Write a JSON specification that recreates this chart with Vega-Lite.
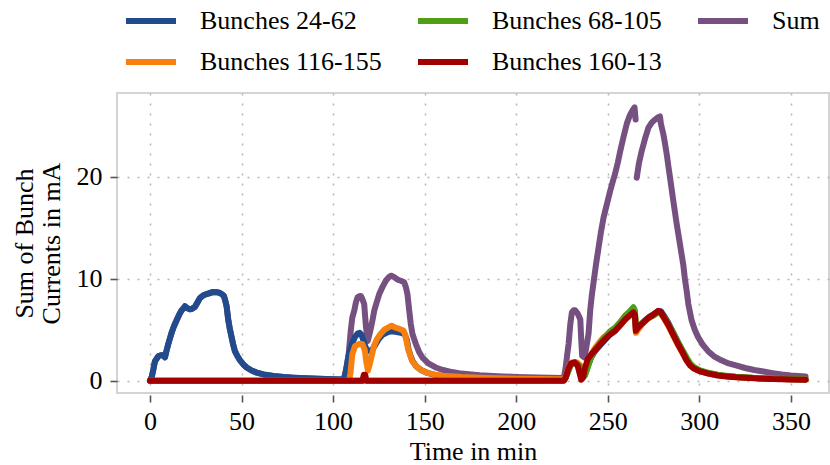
{
  "$schema": "https://vega.github.io/schema/vega-lite/v6.json",
  "width": 712,
  "height": 300,
  "autosize": {"type": "none"},
  "padding": {"left": 117, "top": 93, "right": 1, "bottom": 72},
  "background": "white",
  "config": {
    "view": {"stroke": "#d4d4d4", "strokeWidth": 2},
    "font": "Liberation Serif",
    "axis": {
      "grid": true,
      "gridColor": "#b5b5b5",
      "gridDash": [2, 8],
      "gridWidth": 1.5,
      "domain": false,
      "tickColor": "#555555",
      "tickSize": 7,
      "tickWidth": 1.6,
      "labelFont": "Liberation Serif",
      "labelFontSize": 26,
      "labelColor": "#000000",
      "titleFont": "Liberation Serif",
      "titleFontSize": 26,
      "titleFontWeight": "normal",
      "titleColor": "#000000"
    },
    "legend": {
      "labelFont": "Liberation Serif",
      "labelFontSize": 26,
      "labelColor": "#000000",
      "labelLimit": 400
    },
    "line": {"strokeWidth": 6, "strokeCap": "round", "strokeJoin": "round"}
  },
  "datasets": {
    "blue": [
      {"t":0,"v":0},{"t":1,"v":0.4},{"t":1.8,"v":1.05},{"t":2.7,"v":1.9},{"t":4.5,"v":2.4},{"t":6,"v":2.5},{"t":7.3,"v":2.5},{"t":8.2,"v":2.3},{"t":9,"v":2.9},{"t":10,"v":3.6},{"t":11.8,"v":4.7},{"t":13,"v":5.3},{"t":14.5,"v":5.9},{"t":16,"v":6.5},{"t":17.3,"v":6.9},{"t":19.1,"v":7.3},{"t":20.5,"v":7.1},{"t":21.8,"v":7.0},{"t":23,"v":7.05},{"t":24.6,"v":7.25},{"t":26,"v":7.7},{"t":27.3,"v":8.1},{"t":29,"v":8.35},{"t":30.9,"v":8.5},{"t":32.8,"v":8.6},{"t":34.6,"v":8.7},{"t":36.5,"v":8.68},{"t":38.2,"v":8.6},{"t":39.5,"v":8.45},{"t":40.4,"v":8.3},{"t":41.2,"v":7.8},{"t":41.9,"v":7.25},{"t":42.8,"v":5.9},{"t":43.7,"v":5.0},{"t":44.6,"v":4.25},{"t":45.5,"v":3.5},{"t":46.4,"v":2.9},{"t":47.8,"v":2.4},{"t":49.2,"v":2.0},{"t":51,"v":1.6},{"t":52.8,"v":1.3},{"t":55.5,"v":1.0},{"t":58.3,"v":0.8},{"t":62,"v":0.62},{"t":67.4,"v":0.46},{"t":73,"v":0.36},{"t":78.4,"v":0.3},{"t":85,"v":0.24},{"t":92,"v":0.19},{"t":100,"v":0.15},{"t":105.5,"v":0.12},
      {"t":106.5,"v":0.5},{"t":107.5,"v":1.5},{"t":108.5,"v":2.5},{"t":109.5,"v":3.2},{"t":110.5,"v":3.7},{"t":112,"v":4.3},{"t":113.5,"v":4.65},{"t":114.5,"v":4.7},{"t":115.5,"v":4.5},{"t":116.5,"v":4.0},{"t":117.5,"v":3.4},{"t":118.5,"v":3.0},{"t":120,"v":2.9},{"t":121.5,"v":3.1},{"t":123,"v":3.5},{"t":125,"v":4.1},{"t":127,"v":4.5},{"t":129,"v":4.7},{"t":131.5,"v":4.85},{"t":134,"v":4.8},{"t":137,"v":4.7},{"t":139,"v":4.6},{"t":140.3,"v":4.0},{"t":141.2,"v":3.1},{"t":142.2,"v":2.5},{"t":143.5,"v":1.9},{"t":145.5,"v":1.4},{"t":148,"v":1.05},{"t":151,"v":0.8},{"t":155,"v":0.6},{"t":160,"v":0.45},{"t":165,"v":0.36},{"t":170,"v":0.3},{"t":180,"v":0.23},{"t":190,"v":0.18},{"t":200,"v":0.15},{"t":212,"v":0.12},{"t":226,"v":0.1},
      {"t":227,"v":0.3},{"t":228.5,"v":1.0},{"t":229.5,"v":1.45},{"t":230.5,"v":1.7},{"t":232,"v":1.75},{"t":233.5,"v":1.65},{"t":235,"v":1.4},{"t":235.7,"v":0.8},{"t":236.5,"v":0.5},{"t":237.5,"v":0.6},{"t":238.5,"v":1.1},{"t":239.5,"v":1.6},{"t":241,"v":2.3},{"t":243,"v":2.9},{"t":245.5,"v":3.4},{"t":248,"v":3.9},{"t":251,"v":4.5},{"t":254,"v":4.9},{"t":257,"v":5.5},{"t":259.5,"v":6.1},{"t":262,"v":6.5},{"t":264,"v":6.8},{"t":264.8,"v":6.6},{"t":265.4,"v":5.0},{"t":266.5,"v":5.2},{"t":268.5,"v":5.6},{"t":270.5,"v":5.95},{"t":272.5,"v":6.25},{"t":275,"v":6.5},{"t":277.5,"v":6.8},{"t":279,"v":6.8},{"t":281,"v":6.3},{"t":283,"v":5.7},{"t":285.5,"v":4.8},{"t":288,"v":3.9},{"t":290.5,"v":3.0},{"t":293,"v":2.15},{"t":295,"v":1.6},{"t":297,"v":1.25},{"t":300,"v":0.98},{"t":305,"v":0.72},{"t":310,"v":0.56},{"t":315,"v":0.45},{"t":320,"v":0.37},{"t":330,"v":0.27},{"t":340,"v":0.2},{"t":350,"v":0.15},{"t":358,"v":0.12}
    ],
    "orange": [
      {"t":0,"v":0},{"t":108.8,"v":0},{"t":109.5,"v":0.8},{"t":110.5,"v":2.6},{"t":112,"v":3.4},{"t":114,"v":3.6},{"t":116,"v":3.6},{"t":117.3,"v":3.0},{"t":118.2,"v":1.8},{"t":119,"v":1.0},{"t":120,"v":1.6},{"t":121,"v":2.4},{"t":122.5,"v":3.5},{"t":124,"v":4.1},{"t":126,"v":4.6},{"t":128,"v":5.0},{"t":130,"v":5.2},{"t":132,"v":5.4},{"t":134,"v":5.2},{"t":136,"v":5.1},{"t":138.5,"v":4.9},{"t":139.5,"v":4.4},{"t":141,"v":3.1},{"t":143,"v":2.0},{"t":145.5,"v":1.4},{"t":148.5,"v":1.0},{"t":152,"v":0.75},{"t":156,"v":0.6},{"t":160,"v":0.5},{"t":170,"v":0.38},{"t":180,"v":0.3},{"t":190,"v":0.25},{"t":200,"v":0.2},{"t":212,"v":0.17},{"t":226,"v":0.14},
      {"t":227,"v":0.4},{"t":228.5,"v":1.3},{"t":229.5,"v":1.6},{"t":230.5,"v":1.8},{"t":232,"v":1.85},{"t":233.5,"v":1.75},{"t":235,"v":1.5},{"t":235.7,"v":0.9},{"t":236.5,"v":0.5},{"t":237.5,"v":0.8},{"t":238.5,"v":1.4},{"t":239.5,"v":1.9},{"t":241,"v":2.6},{"t":243,"v":3.2},{"t":245.5,"v":3.8},{"t":248,"v":4.3},{"t":251,"v":4.7},{"t":254,"v":5.0},{"t":257,"v":5.5},{"t":259.5,"v":6.0},{"t":262,"v":6.6},{"t":264,"v":7.0},{"t":264.8,"v":6.7},{"t":265.4,"v":4.7},{"t":266.5,"v":5.0},{"t":268.5,"v":5.5},{"t":270.5,"v":5.85},{"t":272.5,"v":6.15},{"t":275,"v":6.45},{"t":277.5,"v":6.8},{"t":279,"v":6.6},{"t":281,"v":6.0},{"t":283,"v":5.4},{"t":285.5,"v":4.5},{"t":288,"v":3.6},{"t":290.5,"v":2.8},{"t":293,"v":2.0},{"t":295,"v":1.5},{"t":297,"v":1.2},{"t":300,"v":0.95},{"t":305,"v":0.7},{"t":310,"v":0.55},{"t":315,"v":0.44},{"t":320,"v":0.36},{"t":330,"v":0.26},{"t":340,"v":0.2},{"t":350,"v":0.15},{"t":358,"v":0.12}
    ],
    "green": [
      {"t":0,"v":0},{"t":226,"v":0},{"t":227,"v":0.3},{"t":228.5,"v":1.0},{"t":229.5,"v":1.4},{"t":230.5,"v":1.65},{"t":232,"v":1.7},{"t":233.5,"v":1.6},{"t":235,"v":1.35},{"t":235.7,"v":0.8},{"t":236.5,"v":0.4},{"t":237.5,"v":0.5},{"t":238.5,"v":1.0},{"t":239.5,"v":1.6},{"t":241,"v":2.4},{"t":243,"v":3.0},{"t":245.5,"v":3.6},{"t":248,"v":4.2},{"t":251,"v":4.8},{"t":254,"v":5.2},{"t":257,"v":5.8},{"t":259.5,"v":6.4},{"t":262,"v":6.8},{"t":264,"v":7.2},{"t":264.8,"v":6.9},{"t":265.4,"v":5.1},{"t":266.5,"v":5.3},{"t":268.5,"v":5.6},{"t":270.5,"v":5.9},{"t":272.5,"v":6.2},{"t":275,"v":6.4},{"t":277.5,"v":6.7},{"t":279,"v":6.6},{"t":281,"v":6.2},{"t":283,"v":5.6},{"t":285.5,"v":4.8},{"t":288,"v":3.9},{"t":290.5,"v":3.1},{"t":293,"v":2.3},{"t":295,"v":1.7},{"t":297,"v":1.35},{"t":300,"v":1.05},{"t":305,"v":0.78},{"t":310,"v":0.6},{"t":315,"v":0.48},{"t":320,"v":0.39},{"t":330,"v":0.28},{"t":340,"v":0.21},{"t":350,"v":0.16},{"t":358,"v":0.13}
    ],
    "red": [
      {"t":0,"v":0},{"t":116,"v":0},{"t":116.8,"v":0.6},{"t":117.5,"v":0.6},{"t":118.2,"v":0},{"t":226,"v":0},{"t":227,"v":0.3},{"t":228.5,"v":1.2},{"t":230,"v":1.7},{"t":232,"v":1.8},{"t":233.5,"v":1.5},{"t":234.5,"v":0.8},{"t":235.5,"v":0.1},{"t":236.5,"v":0.3},{"t":237.5,"v":1.2},{"t":239,"v":2.1},{"t":241,"v":2.6},{"t":243,"v":3.0},{"t":245.5,"v":3.5},{"t":248,"v":4.0},{"t":251,"v":4.5},{"t":254,"v":4.9},{"t":257,"v":5.5},{"t":259.5,"v":6.0},{"t":262,"v":6.4},{"t":264,"v":6.7},{"t":264.8,"v":6.5},{"t":265.3,"v":4.9},{"t":266.5,"v":5.2},{"t":268.5,"v":5.55},{"t":270.5,"v":5.9},{"t":272.5,"v":6.2},{"t":275,"v":6.5},{"t":277.5,"v":6.85},{"t":279,"v":6.7},{"t":281,"v":6.1},{"t":283,"v":5.5},{"t":285.5,"v":4.6},{"t":288,"v":3.7},{"t":290.5,"v":2.9},{"t":293,"v":2.0},{"t":295,"v":1.5},{"t":297,"v":1.2},{"t":300,"v":0.95},{"t":305,"v":0.7},{"t":310,"v":0.52},{"t":315,"v":0.42},{"t":320,"v":0.34},{"t":330,"v":0.24},{"t":340,"v":0.16},{"t":350,"v":0.12},{"t":358,"v":0.1}
    ],
    "sum": [
      {"t":0,"v":0},{"t":1,"v":0.4},{"t":1.8,"v":1.05},{"t":2.7,"v":1.9},{"t":4.5,"v":2.4},{"t":6,"v":2.5},{"t":7.3,"v":2.5},{"t":8.2,"v":2.3},{"t":9,"v":2.9},{"t":10,"v":3.6},{"t":11.8,"v":4.7},{"t":13,"v":5.3},{"t":14.5,"v":5.9},{"t":16,"v":6.5},{"t":17.3,"v":6.9},{"t":19.1,"v":7.3},{"t":20.5,"v":7.1},{"t":21.8,"v":7.0},{"t":23,"v":7.05},{"t":24.6,"v":7.25},{"t":26,"v":7.7},{"t":27.3,"v":8.1},{"t":29,"v":8.35},{"t":30.9,"v":8.5},{"t":32.8,"v":8.6},{"t":34.6,"v":8.7},{"t":36.5,"v":8.68},{"t":38.2,"v":8.6},{"t":39.5,"v":8.45},{"t":40.4,"v":8.3},{"t":41.2,"v":7.8},{"t":41.9,"v":7.25},{"t":42.8,"v":5.9},{"t":43.7,"v":5.0},{"t":44.6,"v":4.25},{"t":45.5,"v":3.5},{"t":46.4,"v":2.9},{"t":47.8,"v":2.4},{"t":49.2,"v":2.0},{"t":51,"v":1.6},{"t":52.8,"v":1.3},{"t":55.5,"v":1.0},{"t":58.3,"v":0.8},{"t":62,"v":0.62},{"t":67.4,"v":0.46},{"t":73,"v":0.36},{"t":78.4,"v":0.3},{"t":85,"v":0.24},{"t":92,"v":0.19},{"t":100,"v":0.15},{"t":105.5,"v":0.12},
      {"t":106.5,"v":0.55},{"t":107.5,"v":1.5},{"t":108.5,"v":2.6},{"t":109.7,"v":5.0},{"t":110.5,"v":6.2},{"t":111.6,"v":6.9},{"t":112.5,"v":7.7},{"t":113.4,"v":8.2},{"t":114.5,"v":8.3},{"t":115.2,"v":8.3},{"t":116,"v":8.0},{"t":117,"v":7.5},{"t":117.5,"v":6.3},{"t":118,"v":5.2},{"t":118.9,"v":3.9},{"t":119.8,"v":4.5},{"t":120.7,"v":5.2},{"t":121.6,"v":6.0},{"t":122.5,"v":6.9},{"t":124,"v":7.8},{"t":125.2,"v":8.5},{"t":127,"v":9.2},{"t":128.8,"v":9.8},{"t":130.2,"v":10.1},{"t":131.6,"v":10.3},{"t":133,"v":10.2},{"t":135.2,"v":9.9},{"t":137,"v":9.8},{"t":138.8,"v":9.65},{"t":139.7,"v":9.2},{"t":140.6,"v":8.5},{"t":141.5,"v":7.0},{"t":142.4,"v":5.6},{"t":143.3,"v":4.6},{"t":145.2,"v":3.6},{"t":147,"v":2.8},{"t":148.7,"v":2.3},{"t":152,"v":1.7},{"t":156,"v":1.3},{"t":160,"v":1.05},{"t":165,"v":0.85},{"t":170,"v":0.7},{"t":180,"v":0.55},{"t":190,"v":0.45},{"t":200,"v":0.38},{"t":212,"v":0.32},{"t":226,"v":0.27},
      {"t":227,"v":1.3},{"t":227.8,"v":2.5},{"t":228.6,"v":3.6},{"t":229.5,"v":5.5},{"t":230.4,"v":6.7},{"t":231.3,"v":6.9},{"t":232.2,"v":6.9},{"t":233.5,"v":6.6},{"t":234.3,"v":6.3},{"t":235,"v":6.0},{"t":235.5,"v":4.0},{"t":236,"v":2.45},{"t":237,"v":2.3},{"t":238,"v":3.0},{"t":239.5,"v":4.6},{"t":240.4,"v":6.9},{"t":241.3,"v":8.4},{"t":242.2,"v":9.6},{"t":243.5,"v":11.3},{"t":245,"v":13.1},{"t":246.3,"v":14.6},{"t":247.7,"v":16.0},{"t":249.5,"v":17.3},{"t":251.3,"v":18.6},{"t":252.7,"v":19.5},{"t":254,"v":20.3},{"t":255.5,"v":21.4},{"t":256.8,"v":22.5},{"t":258.6,"v":23.9},{"t":260.4,"v":25.2},{"t":262,"v":26.0},{"t":263.5,"v":26.5},{"t":264.6,"v":26.8},{"t":265.2,"v":25.6},{"t":265.5,"v":null},{"t":265.8,"v":19.9},{"t":267,"v":21.3},{"t":268.5,"v":22.5},{"t":270.3,"v":23.7},{"t":272.2,"v":24.8},{"t":274,"v":25.3},{"t":275.8,"v":25.6},{"t":277.2,"v":25.8},{"t":278.5,"v":25.9},{"t":279,"v":25.2},{"t":280.3,"v":24.2},{"t":281.2,"v":23.3},{"t":282.2,"v":22.2},{"t":283.1,"v":21.0},{"t":284,"v":19.9},{"t":285.8,"v":17.6},{"t":287.6,"v":15.4},{"t":289.4,"v":13.4},{"t":291.2,"v":11.4},{"t":292.1,"v":10.0},{"t":293,"v":8.9},{"t":294,"v":7.5},{"t":295.8,"v":5.9},{"t":297.5,"v":5.0},{"t":299.4,"v":4.25},{"t":302,"v":3.5},{"t":304.8,"v":2.9},{"t":308,"v":2.4},{"t":312,"v":2.0},{"t":316,"v":1.7},{"t":320,"v":1.5},{"t":325,"v":1.25},{"t":330,"v":1.05},{"t":335,"v":0.9},{"t":340,"v":0.75},{"t":345,"v":0.62},{"t":350,"v":0.52},{"t":358,"v":0.42}
    ]
  },
  "encoding": {
    "x": {
      "field": "t", "type": "quantitative",
      "scale": {"domain": [-18, 370.8], "nice": false, "zero": false},
      "axis": {"values": [0, 50, 100, 150, 200, 250, 300, 350], "title": "Time in min", "offset": 2, "labelPadding": 6, "titlePadding": 4}
    },
    "y": {
      "field": "v", "type": "quantitative",
      "scale": {"domain": [-1.2, 28.2], "nice": false, "zero": false},
      "axis": {"values": [0, 10, 20], "title": ["Sum of Bunch", "Currents in mA"], "labelPadding": 8, "titlePadding": 12, "titleLineHeight": 27}
    }
  },
  "layer": [
    {"data": {"name": "sum"}, "mark": {"type": "line"}, "encoding": {"color": {"datum": "Sum", "scale": {"domain": ["Bunches 24-62", "Bunches 68-105", "Sum", "Bunches 116-155", "Bunches 160-13"], "range": ["#214b8c", "#4f9e16", "#765080", "#f7800f", "#a00000"]}, "legend": {"orient": "none", "legendX": 6, "legendY": -100, "direction": "horizontal", "columns": 3, "title": null, "symbolType": "stroke", "symbolSize": 2500, "symbolStrokeWidth": 4, "labelOffset": 21, "columnPadding": 33, "rowPadding": -14, "labelLimit": 400}}}},
    {"data": {"name": "blue"}, "mark": {"type": "line"}, "encoding": {"color": {"datum": "Bunches 24-62"}}},
    {"data": {"name": "orange"}, "mark": {"type": "line"}, "encoding": {"color": {"datum": "Bunches 116-155"}}},
    {"data": {"name": "green"}, "mark": {"type": "line"}, "encoding": {"color": {"datum": "Bunches 68-105"}}},
    {"data": {"name": "red"}, "mark": {"type": "line"}, "encoding": {"color": {"datum": "Bunches 160-13"}}}
  ]
}
